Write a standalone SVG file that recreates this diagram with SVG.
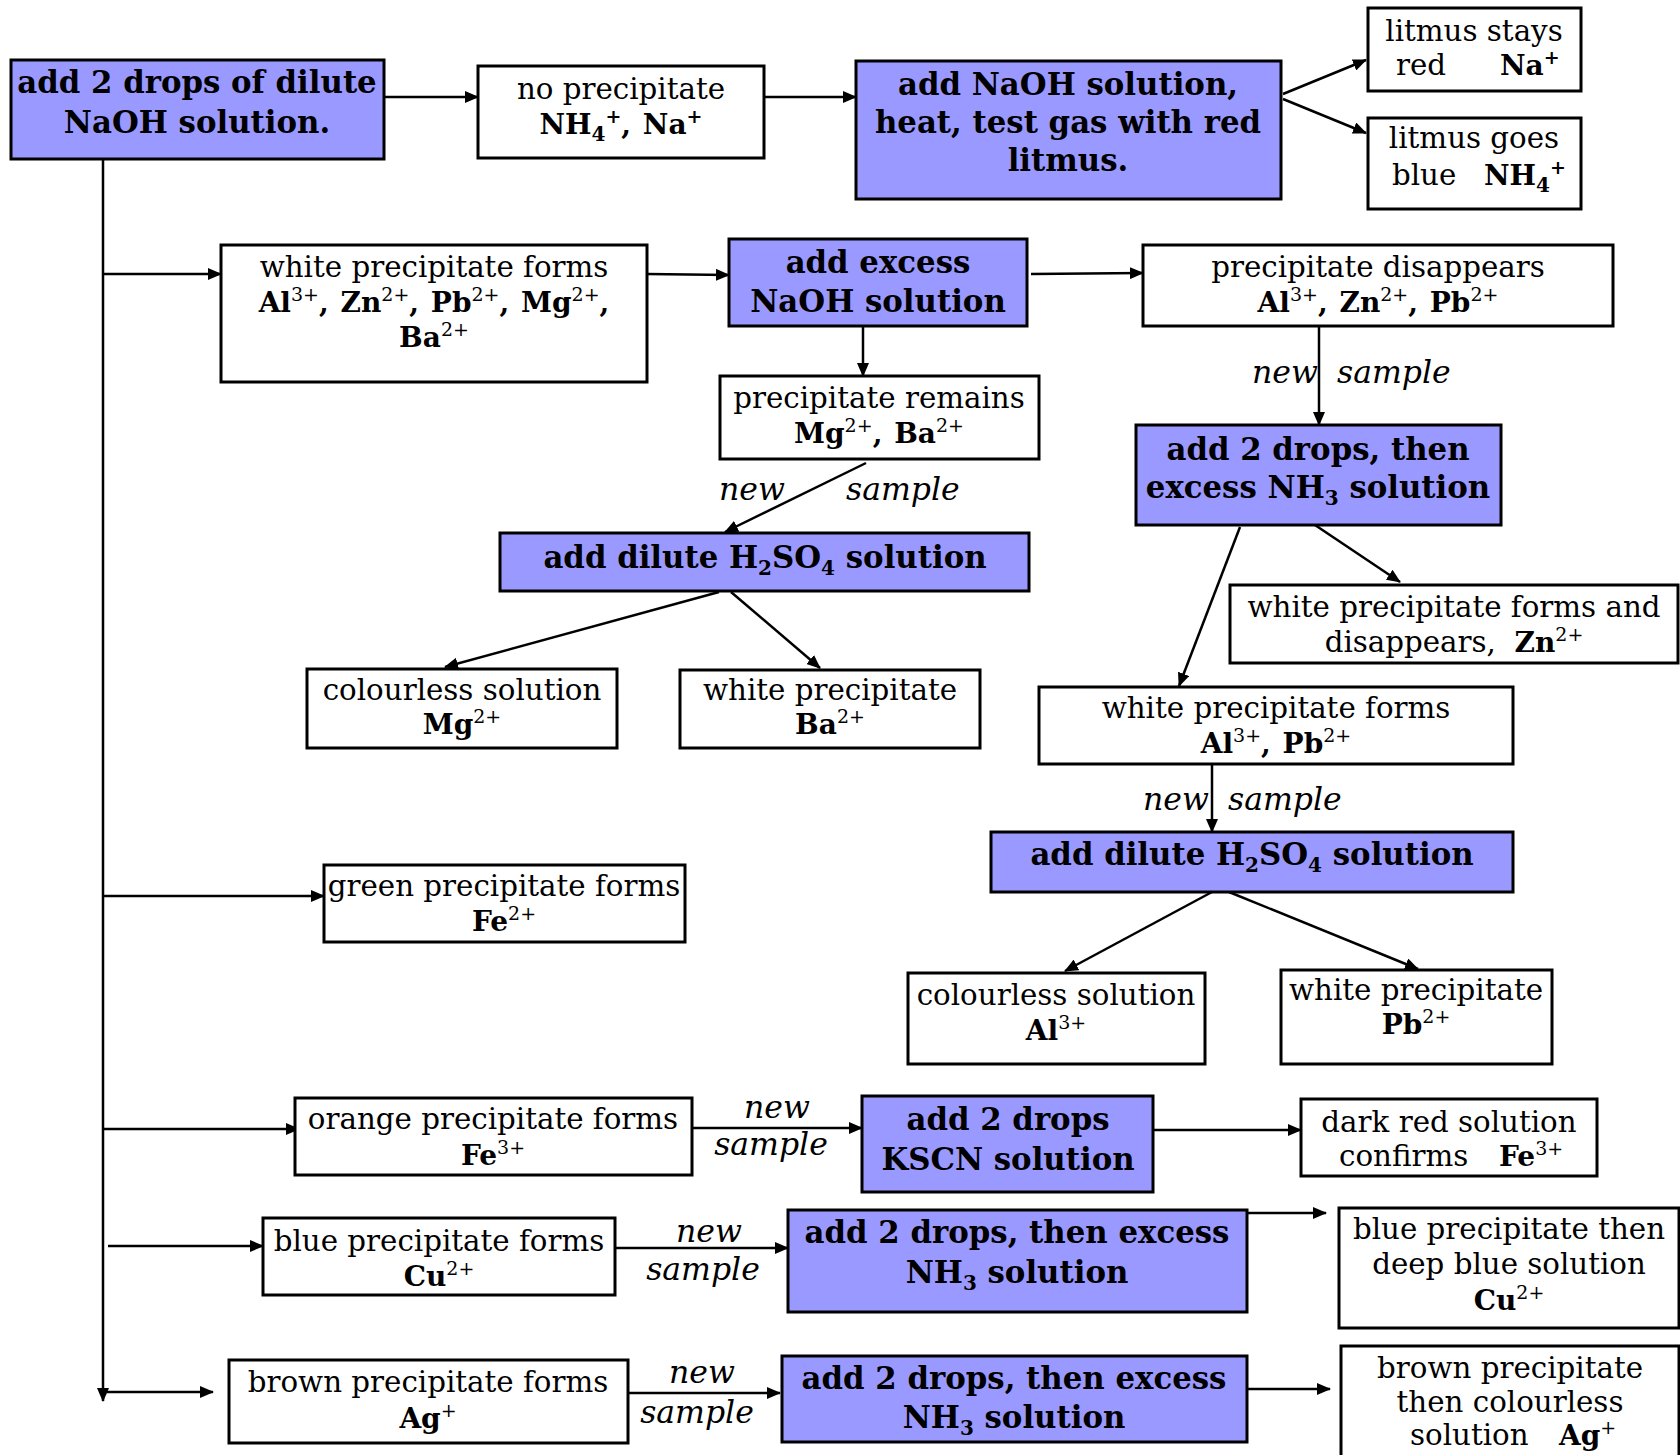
<svg xmlns="http://www.w3.org/2000/svg" width="1680" height="1455" viewBox="0 0 1680 1455">
<style>
text{font-family:"DejaVu Serif","Liberation Serif",serif;fill:#000;white-space:pre}
.r{font-size:29.3px}
.b{font-size:30.8px;font-weight:bold}
.i{font-size:31.5px;font-style:italic}
.m{text-anchor:middle}
.bb{font-weight:bold;font-size:28px}
.sup{font-size:19px;font-weight:normal;baseline-shift:11px}
.supb{font-size:19px;baseline-shift:11px}
.sub{font-size:20px;baseline-shift:-7px}
.blue{fill:#9999ff;stroke:#000;stroke-width:3}
.white{fill:#fff;stroke:#000;stroke-width:3}
.c line{stroke:#000;stroke-width:2.5;marker-end:url(#ah)}
</style>
<defs>
<marker id="ah" markerUnits="userSpaceOnUse" markerWidth="14" markerHeight="12" refX="13" refY="6" orient="auto">
<path d="M0,0 L14,6 L0,12 Z" fill="#000"/>
</marker>
</defs>

<g class="c" id="connectors">
<line x1="103" y1="159" x2="103" y2="1401"/>
<line x1="103" y1="274" x2="221" y2="274"/>
<line x1="103" y1="896" x2="324" y2="896"/>
<line x1="103" y1="1129" x2="299" y2="1129"/>
<line x1="108" y1="1246" x2="263" y2="1246"/>
<line x1="103" y1="1392" x2="213" y2="1392"/>
<line x1="384" y1="97" x2="478" y2="97"/>
<line x1="758" y1="97" x2="856" y2="97"/>
<line x1="1283" y1="94" x2="1366" y2="60"/>
<line x1="1283" y1="99" x2="1366" y2="133"/>
<line x1="647" y1="274" x2="729" y2="275"/>
<line x1="1031" y1="274" x2="1143" y2="273"/>
<line x1="863" y1="326" x2="863" y2="376"/>
<line x1="866" y1="463" x2="725" y2="532"/>
<line x1="1319" y1="319" x2="1319" y2="425"/>
<line x1="1240" y1="527" x2="1179" y2="686"/>
<line x1="1312" y1="523" x2="1400" y2="582"/>
<line x1="719" y1="592" x2="445" y2="667"/>
<line x1="731" y1="592" x2="820" y2="668"/>
<line x1="1212" y1="764" x2="1212" y2="832"/>
<line x1="1212" y1="892" x2="1065" y2="971"/>
<line x1="1229" y1="892" x2="1418" y2="969"/>
<line x1="692" y1="1128" x2="862" y2="1128"/>
<line x1="1153" y1="1130" x2="1301" y2="1130"/>
<line x1="615" y1="1248" x2="788" y2="1248"/>
<line x1="1247" y1="1213" x2="1326" y2="1213"/>
<line x1="629" y1="1393" x2="780" y2="1393"/>
<line x1="1247" y1="1389" x2="1330" y2="1389"/>
</g>

<g id="labels">
<text class="i" x="719" y="500">new</text>
<text class="i" x="846" y="500">sample</text>
<text class="i" x="1252" y="383">new</text>
<text class="i" x="1337" y="383">sample</text>
<text class="i" x="1143" y="810">new</text>
<text class="i" x="1228" y="810">sample</text>
<text class="i m" x="777" y="1118">new</text>
<text class="i m" x="771" y="1155">sample</text>
<text class="i m" x="709" y="1242">new</text>
<text class="i m" x="703" y="1280">sample</text>
<text class="i m" x="702" y="1383">new</text>
<text class="i m" x="697" y="1423">sample</text>
</g>

<g id="n1"><rect class="blue" x="11" y="60" width="373" height="99"/>
<text class="b m" x="197" y="93">add 2 drops of dilute</text>
<text class="b m" x="197" y="133">NaOH solution.</text></g>

<g id="n2"><rect class="white" x="478" y="66" width="286" height="92"/>
<text class="r m" x="621" y="99">no precipitate</text>
<text class="r m bb" x="621" y="134">NH<tspan class="sub">4</tspan><tspan class="supb">+</tspan>, <tspan dx="2">Na</tspan><tspan class="supb">+</tspan></text></g>

<g id="n3"><rect class="blue" x="856" y="61" width="425" height="138"/>
<text class="b m" x="1068" y="95">add NaOH solution,</text>
<text class="b m" x="1068" y="133">heat, test gas with red</text>
<text class="b m" x="1068" y="171">litmus.</text></g>

<g id="n4"><rect class="white" x="1368" y="8" width="213" height="83"/>
<text class="r m" x="1474" y="41">litmus stays</text>
<text class="r" x="1396" y="75">red</text>
<text class="r bb" x="1500" y="75">Na<tspan class="supb">+</tspan></text></g>

<g id="n5"><rect class="white" x="1368" y="118" width="213" height="91"/>
<text class="r m" x="1474" y="148">litmus goes</text>
<text class="r" x="1392" y="185">blue</text>
<text class="r bb" x="1484" y="185">NH<tspan class="sub">4</tspan><tspan class="supb">+</tspan></text></g>

<g id="n6"><rect class="white" x="221" y="245" width="426" height="137"/>
<text class="r m" x="434" y="277">white precipitate forms</text>
<text class="r m bb" x="434" y="312">Al<tspan class="sup">3+</tspan>, <tspan dx="2">Zn</tspan><tspan class="sup">2+</tspan>, <tspan dx="2">Pb</tspan><tspan class="sup">2+</tspan>, <tspan dx="2">Mg</tspan><tspan class="sup">2+</tspan>,</text>
<text class="r m bb" x="434" y="347">Ba<tspan class="sup">2+</tspan></text></g>

<g id="n7"><rect class="blue" x="729" y="239" width="298" height="87"/>
<text class="b m" x="878" y="273">add excess</text>
<text class="b m" x="878" y="312">NaOH solution</text></g>

<g id="n8"><rect class="white" x="1143" y="245" width="470" height="81"/>
<text class="r m" x="1378" y="277">precipitate disappears</text>
<text class="r m bb" x="1378" y="312">Al<tspan class="sup">3+</tspan>, <tspan dx="2">Zn</tspan><tspan class="sup">2+</tspan>, <tspan dx="2">Pb</tspan><tspan class="sup">2+</tspan></text></g>

<g id="n9"><rect class="white" x="720" y="376" width="319" height="83"/>
<text class="r m" x="879" y="408">precipitate remains</text>
<text class="r m bb" x="879" y="443">Mg<tspan class="sup">2+</tspan>, <tspan dx="2">Ba</tspan><tspan class="sup">2+</tspan></text></g>

<g id="n10"><rect class="blue" x="1136" y="425" width="365" height="100"/>
<text class="b m" x="1318" y="460">add 2 drops, then</text>
<text class="b m" x="1318" y="498">excess NH<tspan class="sub">3</tspan> solution</text></g>

<g id="n11"><rect class="blue" x="500" y="533" width="529" height="58"/>
<text class="b m" x="765" y="568">add dilute H<tspan class="sub">2</tspan>SO<tspan class="sub">4</tspan> solution</text></g>

<g id="n12"><rect class="white" x="1230" y="585" width="448" height="78"/>
<text class="r m" x="1454" y="617">white precipitate forms and</text>
<text class="r m" x="1454" y="652">disappears,  <tspan class="bb">Zn<tspan class="sup">2+</tspan></tspan></text></g>

<g id="n13"><rect class="white" x="307" y="669" width="310" height="79"/>
<text class="r m" x="462" y="700">colourless solution</text>
<text class="r m bb" x="462" y="734">Mg<tspan class="sup">2+</tspan></text></g>

<g id="n14"><rect class="white" x="680" y="670" width="300" height="78"/>
<text class="r m" x="830" y="700">white precipitate</text>
<text class="r m bb" x="830" y="734">Ba<tspan class="sup">2+</tspan></text></g>

<g id="n15"><rect class="white" x="1039" y="687" width="474" height="77"/>
<text class="r m" x="1276" y="718">white precipitate forms</text>
<text class="r m bb" x="1276" y="753">Al<tspan class="sup">3+</tspan>, <tspan dx="2">Pb</tspan><tspan class="sup">2+</tspan></text></g>

<g id="n16"><rect class="blue" x="991" y="832" width="522" height="60"/>
<text class="b m" x="1252" y="865">add dilute H<tspan class="sub">2</tspan>SO<tspan class="sub">4</tspan> solution</text></g>

<g id="n17"><rect class="white" x="324" y="865" width="361" height="77"/>
<text class="r m" x="504" y="896">green precipitate forms</text>
<text class="r m bb" x="504" y="931">Fe<tspan class="sup">2+</tspan></text></g>

<g id="n18"><rect class="white" x="908" y="973" width="297" height="91"/>
<text class="r m" x="1056" y="1005">colourless solution</text>
<text class="r m bb" x="1056" y="1040">Al<tspan class="sup">3+</tspan></text></g>

<g id="n19"><rect class="white" x="1281" y="970" width="271" height="94"/>
<text class="r m" x="1416" y="1000">white precipitate</text>
<text class="r m bb" x="1416" y="1034">Pb<tspan class="sup">2+</tspan></text></g>

<g id="n20"><rect class="white" x="295" y="1098" width="397" height="77"/>
<text class="r m" x="493" y="1129">orange precipitate forms</text>
<text class="r m bb" x="493" y="1165">Fe<tspan class="sup">3+</tspan></text></g>

<g id="n21"><rect class="blue" x="862" y="1096" width="291" height="96"/>
<text class="b m" x="1008" y="1130">add 2 drops</text>
<text class="b m" x="1008" y="1170">KSCN solution</text></g>

<g id="n22"><rect class="white" x="1301" y="1099" width="296" height="77"/>
<text class="r m" x="1449" y="1132">dark red solution</text>
<text class="r" x="1339" y="1166">confirms</text>
<text class="r bb" x="1499" y="1166">Fe<tspan class="sup">3+</tspan></text></g>

<g id="n23"><rect class="white" x="263" y="1218" width="352" height="77"/>
<text class="r m" x="439" y="1251">blue precipitate forms</text>
<text class="r m bb" x="439" y="1286">Cu<tspan class="sup">2+</tspan></text></g>

<g id="n24"><rect class="blue" x="788" y="1210" width="459" height="102"/>
<text class="b m" x="1017" y="1243">add 2 drops, then excess</text>
<text class="b m" x="1017" y="1283">NH<tspan class="sub">3</tspan> solution</text></g>

<g id="n25"><rect class="white" x="1339" y="1208" width="340" height="120"/>
<text class="r m" x="1509" y="1239">blue precipitate then</text>
<text class="r m" x="1509" y="1274">deep blue solution</text>
<text class="r m bb" x="1509" y="1310">Cu<tspan class="sup">2+</tspan></text></g>

<g id="n26"><rect class="white" x="229" y="1360" width="399" height="83"/>
<text class="r m" x="428" y="1392">brown precipitate forms</text>
<text class="r m bb" x="428" y="1428">Ag<tspan class="sup">+</tspan></text></g>

<g id="n27"><rect class="blue" x="782" y="1356" width="465" height="86"/>
<text class="b m" x="1014" y="1389">add 2 drops, then excess</text>
<text class="b m" x="1014" y="1428">NH<tspan class="sub">3</tspan> solution</text></g>

<g id="n28"><rect class="white" x="1341" y="1346" width="338" height="120"/>
<text class="r m" x="1510" y="1378">brown precipitate</text>
<text class="r m" x="1510" y="1412">then colourless</text>
<text class="r" x="1410" y="1445">solution</text>
<text class="r bb" x="1559" y="1445">Ag<tspan class="sup">+</tspan></text></g>
</svg>
